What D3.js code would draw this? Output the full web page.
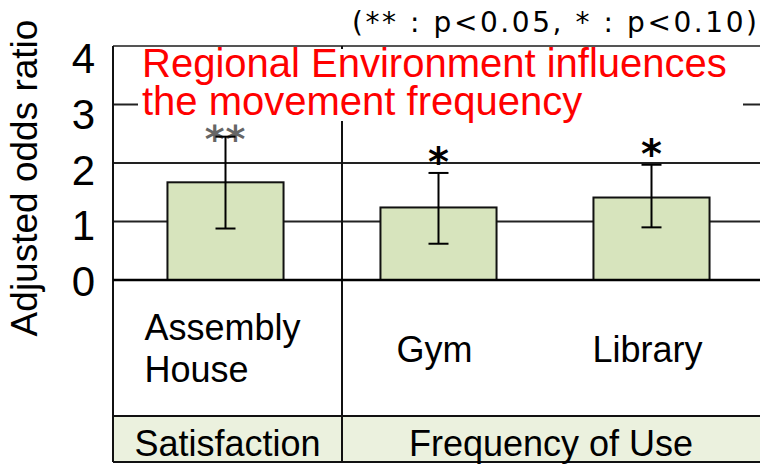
<!DOCTYPE html>
<html>
<head>
<meta charset="utf-8">
<script src="https://cdn.jsdelivr.net/npm/d3@7"></script>
<style>
  html, body { margin: 0; padding: 0; background: #fff; }
  svg { display: block; }
</style>
</head>
<body>
<div id="chart"></div>
<script>
// chart data
const categories = ["Assembly House", "Gym", "Library"];
const groups = ["Satisfaction", "Frequency of Use"];
const groupOf = ["Satisfaction", "Frequency of Use", "Frequency of Use"];
const oddsRatio = [1.67, 1.24, 1.41];
const ciLow = [0.88, 0.62, 0.90];
const ciHigh = [2.45, 1.83, 1.97];
const signif = ["**", "*", "*"];
const yTicks = [0, 1, 2, 3, 4];
const note = "(** : p<0.05, * : p<0.10)";
const titleLines = ["Regional Environment influences", "the movement frequency"];

const W = 760, H = 465;
const plotL = 113, plotR = 760, plotT = 46, zeroY = 280, rowY = 416, plotB = 462;
const divX = 342;
const sans = "Arial, 'Liberation Sans', sans-serif";

const svg = d3.select("#chart").append("svg")
  .attr("width", W)
  .attr("height", H);

const y = d3.scaleLinear().domain([0, 4]).range([zeroY, plotT]);
// tick labels sit on their own slightly tighter spacing in the original
const yLab = d3.scaleLinear().domain([0, 4]).range([296, 73]);

const x = d3.scaleBand()
  .domain(categories)
  .range([119, 758])
  .paddingInner(0.455)
  .paddingOuter(0.2275);

// gridlines
svg.append("g")
  .selectAll("line")
  .data(yTicks.filter(d => d > 0))
  .join("line")
  .attr("x1", plotL).attr("x2", plotR)
  .attr("y1", d => y(d)).attr("y2", d => y(d))
  .attr("stroke", d => d === 4 ? "#555" : "#222")
  .attr("stroke-width", 2);

// table bottom row background
svg.append("rect")
  .attr("x", plotL).attr("y", rowY)
  .attr("width", plotR - plotL).attr("height", plotB - rowY)
  .attr("fill", "#ebf1de");

// frame lines
const frame = svg.append("g").attr("stroke", "#111").attr("stroke-width", 2);
frame.append("line").attr("x1", plotL).attr("x2", plotL).attr("y1", plotT).attr("y2", plotB);
frame.append("line").attr("x1", divX).attr("x2", divX).attr("y1", plotT).attr("y2", plotB);
frame.append("line").attr("x1", plotL).attr("x2", plotR).attr("y1", rowY).attr("y2", rowY);
frame.append("line").attr("x1", plotL).attr("x2", plotR).attr("y1", plotB).attr("y2", plotB);

// bars
svg.append("g")
  .selectAll("rect")
  .data(categories)
  .join("rect")
  .attr("x", d => x(d))
  .attr("y", (d, i) => y(oddsRatio[i]))
  .attr("width", x.bandwidth())
  .attr("height", (d, i) => y(0) - y(oddsRatio[i]))
  .attr("fill", "#d7e4bd")
  .attr("stroke", "#111")
  .attr("stroke-width", 2);

// zero line
svg.append("line")
  .attr("x1", plotL).attr("x2", plotR)
  .attr("y1", y(0)).attr("y2", y(0))
  .attr("stroke", "#000").attr("stroke-width", 2.5);

// significance stars (drawn under the error caps)
svg.append("g")
  .selectAll("text")
  .data(categories)
  .join("text")
  .attr("x", d => x(d) + x.bandwidth() / 2)
  .attr("y", (d, i) => y(ciHigh[i]) + (signif[i] === "**" ? 15 : 3))
  .attr("text-anchor", "middle")
  .attr("font-family", "'DejaVu Sans', sans-serif")
  .attr("font-weight", "bold")
  .attr("font-size", (d, i) => signif[i] === "**" ? 38 : 40)
  .attr("letter-spacing", (d, i) => signif[i] === "**" ? 1 : 0)
  .attr("fill", (d, i) => signif[i] === "**" ? "#666" : "#000")
  .text((d, i) => signif[i]);

// error bars
const err = svg.append("g").attr("stroke", "#000").attr("stroke-width", 2);
categories.forEach((c, i) => {
  const cx = x(c) + x.bandwidth() / 2;
  err.append("line").attr("x1", cx).attr("x2", cx)
    .attr("y1", y(ciLow[i])).attr("y2", y(ciHigh[i]));
  [ciLow[i], ciHigh[i]].forEach(v => {
    err.append("line").attr("x1", cx - 10).attr("x2", cx + 10)
      .attr("y1", y(v)).attr("y2", y(v));
  });
});

// red annotation with white box
svg.append("rect")
  .attr("x", 138).attr("y", 49)
  .attr("width", 605).attr("height", 72)
  .attr("fill", "#fff");
svg.append("text")
  .attr("font-family", sans)
  .attr("font-size", 40)
  .attr("fill", "#ff0000")
  .selectAll("tspan")
  .data(titleLines)
  .join("tspan")
  .attr("x", 142)
  .attr("y", (d, i) => 77 + i * 38)
  .text(d => d);

// y tick labels
svg.append("g")
  .selectAll("text")
  .data(yTicks)
  .join("text")
  .attr("x", 95)
  .attr("y", d => yLab(d))
  .attr("text-anchor", "end")
  .attr("font-family", sans)
  .attr("font-size", 42)
  .attr("fill", "#000")
  .text(d => d);

// y axis title
svg.append("text")
  .attr("transform", "translate(37,178) rotate(-90)")
  .attr("text-anchor", "middle")
  .attr("font-family", sans)
  .attr("font-size", 37)
  .attr("fill", "#000")
  .text("Adjusted odds ratio");

// significance note
svg.append("text")
  .attr("x", 352).attr("y", 32)
  .attr("textLength", 405)
  .attr("lengthAdjust", "spacing")
  .attr("font-family", "'DejaVu Sans', sans-serif")
  .attr("font-size", 28)
  .attr("fill", "#000")
  .text(note);

// category labels
categories.forEach((c, i) => {
  const cx = x(c) + x.bandwidth() / 2;
  const words = c.split(" ");
  const t = svg.append("text")
    .attr("font-family", sans)
    .attr("font-size", 36)
    .attr("fill", "#000");
  if (words.length > 1) {
    const first = t.append("tspan").attr("y", 340).text(words[0]);
    const w = first.node().getComputedTextLength();
    first.attr("x", cx - w / 2 - 3);
    t.append("tspan").attr("x", cx - w / 2 - 3).attr("y", 382).text(words.slice(1).join(" "));
  } else {
    t.attr("x", cx - 4).attr("y", 362).attr("text-anchor", "middle").text(c);
  }
});

// group labels in the bottom row
groups.forEach(g => {
  const idx = categories.map((c, i) => i).filter(i => groupOf[i] === g);
  const x0 = idx[0] === 0 ? plotL : divX;
  const x1 = idx[0] === 0 ? divX : plotR;
  svg.append("text")
    .attr("x", (x0 + x1) / 2)
    .attr("y", 456)
    .attr("text-anchor", "middle")
    .attr("font-family", sans)
    .attr("font-size", 36)
    .attr("fill", "#000")
    .text(g);
});
</script>
</body>
</html>
